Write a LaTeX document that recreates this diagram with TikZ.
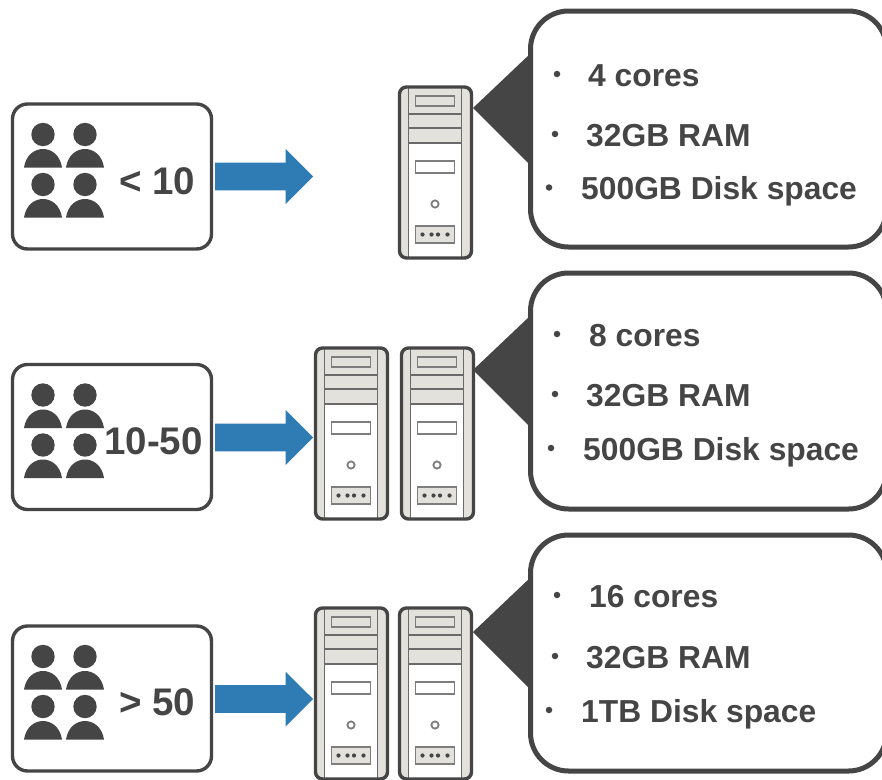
\documentclass[tikz,border=0pt]{standalone}
\usepackage{fontspec}
\setmainfont{Liberation Sans}
\usetikzlibrary{shapes.arrows}
\definecolor{ink}{HTML}{454545}
\definecolor{band}{HTML}{E3E1DC}
\definecolor{blue}{HTML}{2E7CB3}
\tikzset{
  x=1pt,y=-1pt,
  outline/.style={draw=ink,fill=white,outer sep=0pt,inner sep=0pt,anchor=north west},
  bubble/.style={outline,line width=5pt,rounded corners=38pt,minimum width=356pt,minimum height=236pt},
  groupbox/.style={outline,line width=3.4pt,rounded corners=15pt,minimum width=199pt,minimum height=145pt},
  srvline/.style={draw=ink!80!white,line width=1.8pt},
  srvslot/.style={draw=ink!70!white,line width=1.8pt},
  srvframe/.style={draw=ink,line width=3.4pt,rounded corners=7pt,minimum width=72pt,minimum height=171pt,
      inner sep=0pt,outer sep=0pt,anchor=north west},
  label/.style={font=\bfseries\fontsize{31.8}{32}\selectfont,text=ink,anchor=base west,inner sep=0pt},
  biglabel/.style={label,font=\bfseries\fontsize{38.5}{38.5}\selectfont},
  bigarrow/.style={single arrow,fill=blue,draw=none,minimum height=98pt,outer sep=0pt,
    single arrow head extend=13.5pt,single arrow head indent=0pt,inner xsep=0pt,inner ysep=13.7pt,anchor=west},
  dot/.style={circle,fill=ink,inner sep=0pt,minimum size=6.5pt},
}
% #1 x, #2 y of the top-left corner, #3 name
\newcommand{\serverbox}[3]{%
  \begin{scope}[shift={(#1,#2)}]
    \fill[band,rounded corners=7pt] (0,0) rectangle (72,171);
    \fill[white] (9,56) rectangle (62,171);
    \draw[srvline] (9,0) -- (9,171) (62,0) -- (62,171);
    \draw[srvline] (9,27) -- (62,27) (9,41) -- (62,41) (9,56) -- (62,56);
    \draw[srvslot] (16,9) rectangle (55,19);
    \draw[srvslot] (16,74) rectangle (55,86);
    \draw[srvslot] (35.5,117) circle (3.6pt);
    \draw[srvslot,fill=band] (16,139) rectangle (55,156);
    \foreach \dx in {23,32,38.5,48}
      \fill[ink] (\dx,147.5) circle (2.1pt);
    \node[srvframe] (#3) at (0,0) {};
  \end{scope}}
\newcommand{\person}[2]{%
  \fill[ink] (#1,#2) circle (11.7pt);
  \fill[ink] (#1-19,#2+33) .. controls (#1-17,#2+20) and (#1-8,#2+14.5) .. (#1,#2+14.5)
     .. controls (#1+8,#2+14.5) and (#1+17,#2+20) .. (#1+19,#2+33) -- cycle;}
% #1 y of box top, #2 name
\newcommand{\group}[2]{%
  \node[groupbox] (#2) at (12.5,#1) {};
  \person{43}{#1+30.5}\person{85}{#1+30.5}\person{43}{#1+80.5}\person{85}{#1+80.5}}
% #1 y of bubble top, #2 name
\newcommand{\callout}[2]{%
  \node[bubble] (#2) at (530.5,#1) {};
  \coordinate (#2tip) at (473,#1+97);
  \fill[ink] (#2tip) -- (531,#1+42) -- (531,#1+155) -- cycle;}
\newcommand{\bitem}[4]{%
  \node[dot] (b#1#2) at (#1,#2) {};
  \node[label] (t#1#2) at (#3,#2+12) {#4};}
\begin{document}
\begin{tikzpicture}
\useasboundingbox (0,0) rectangle (882,779);
\clip (0,0) rectangle (882,779);
\fill[white] (0,0) rectangle (882,779);

% row 1
\group{104}{g1}
\node[biglabel] (l1) at (119,194) {< 10};
\node[bigarrow] (a1) at (215,176.5) {};
\callout{11}{c1}
\serverbox{399.5}{87}{s1}
\bitem{557}{74}{588}{4 cores}
\bitem{555}{134}{586}{32GB RAM}
\bitem{549}{187.5}{581}{500GB Disk space}

% row 2
\group{364.5}{g2}
\node[biglabel] (l2) at (104,454) {10-50};
\node[bigarrow] (a2) at (215,437.5) {};
\callout{273}{c2}
\serverbox{315.5}{348}{s2a}
\serverbox{401.5}{348}{s2b}
\bitem{557}{334}{589}{8 cores}
\bitem{555}{394}{586}{32GB RAM}
\bitem{551}{448}{583}{500GB Disk space}

% row 3
\group{626}{g3}
\node[biglabel] (l3) at (119,715) {> 50};
\node[bigarrow] (a3) at (215,699) {};
\callout{535}{c3}
\serverbox{315.5}{608}{s3a}
\serverbox{399.5}{608}{s3b}
\bitem{557}{595}{589}{16 cores}
\bitem{555}{656}{586}{32GB RAM}
\bitem{549}{710}{581}{1TB Disk space}
\end{tikzpicture}
\end{document}
